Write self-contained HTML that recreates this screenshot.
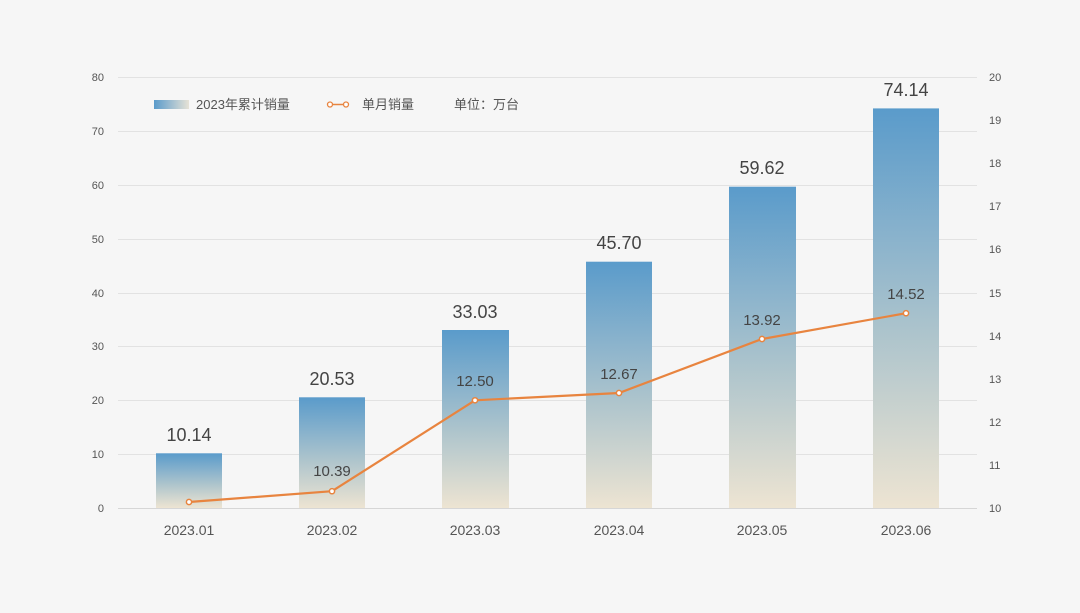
<!DOCTYPE html>
<html><head><meta charset="utf-8"><style>
html,body{margin:0;padding:0;background:#f6f6f6;}
svg text{font-family:"Liberation Sans","Noto Sans CJK SC",sans-serif;}
</style></head><body>
<svg width="1080" height="608" viewBox="0 0 1080 608" xmlns="http://www.w3.org/2000/svg">
<defs>
<linearGradient id="g" x1="0" y1="0" x2="0" y2="1">
<stop offset="0" stop-color="#5a9bcb"/><stop offset="0.55" stop-color="#abc3cc"/><stop offset="1" stop-color="#ede4d2"/></linearGradient>
<linearGradient id="lg" x1="0" y1="0" x2="1" y2="0">
<stop offset="0" stop-color="#5a9bcb"/><stop offset="1" stop-color="#e6e2d6"/></linearGradient>
</defs>
<rect width="1080" height="608" fill="#f6f6f6"/>
<g stroke="#e2e2e2" stroke-width="1">
<line x1="118" x2="977" y1="77.5" y2="77.5"/><line x1="118" x2="977" y1="131.5" y2="131.5"/>
<line x1="118" x2="977" y1="185.5" y2="185.5"/><line x1="118" x2="977" y1="239.5" y2="239.5"/>
<line x1="118" x2="977" y1="293.5" y2="293.5"/><line x1="118" x2="977" y1="346.5" y2="346.5"/>
<line x1="118" x2="977" y1="400.5" y2="400.5"/><line x1="118" x2="977" y1="454.5" y2="454.5"/>
<line x1="118" x2="977" y1="508.5" y2="508.5" stroke="#d6d6d6"/>
</g>
<g font-size="11" fill="#555" text-anchor="end">
<text x="104" y="81">80</text><text x="104" y="135">70</text><text x="104" y="189">60</text><text x="104" y="243">50</text>
<text x="104" y="297">40</text><text x="104" y="350">30</text><text x="104" y="404">20</text><text x="104" y="458">10</text><text x="104" y="512">0</text>
</g>
<g font-size="11" fill="#555" text-anchor="start">
<text x="989" y="81">20</text><text x="989" y="124">19</text><text x="989" y="167">18</text><text x="989" y="210">17</text>
<text x="989" y="253">16</text><text x="989" y="297">15</text><text x="989" y="340">14</text><text x="989" y="383">13</text>
<text x="989" y="426">12</text><text x="989" y="469">11</text><text x="989" y="512">10</text>
</g>
<g fill="url(#g)">
<rect x="156" y="453.3" width="66" height="54.7"/>
<rect x="299" y="397.3" width="66" height="110.7"/>
<rect x="442" y="330" width="67" height="178"/>
<rect x="586" y="261.7" width="66" height="246.3"/>
<rect x="729" y="186.7" width="67" height="321.3"/>
<rect x="873" y="108.4" width="66" height="399.6"/>
</g>
<g font-size="18" fill="#444" text-anchor="middle">
<text x="189" y="441">10.14</text><text x="332" y="385">20.53</text><text x="475" y="318">33.03</text>
<text x="619" y="249">45.70</text><text x="762" y="174">59.62</text><text x="906" y="96">74.14</text>
</g>
<polyline points="189,502 332,491.2 475,400.3 619,393 762,339 906,313.2" fill="none" stroke="#e8843f" stroke-width="2.2"/>
<g fill="#fff" stroke="#e8843f" stroke-width="1.5">
<circle cx="189" cy="502" r="2.6"/><circle cx="332" cy="491.2" r="2.6"/><circle cx="475" cy="400.3" r="2.6"/>
<circle cx="619" cy="393" r="2.6"/><circle cx="762" cy="339" r="2.6"/><circle cx="906" cy="313.2" r="2.6"/>
</g>
<g font-size="15" fill="#444" text-anchor="middle">
<text x="332" y="476">10.39</text><text x="475" y="386">12.50</text><text x="619" y="379">12.67</text>
<text x="762" y="325">13.92</text><text x="906" y="299">14.52</text>
</g>
<g font-size="14" fill="#555" text-anchor="middle">
<text x="189" y="535">2023.01</text><text x="332" y="535">2023.02</text><text x="475" y="535">2023.03</text>
<text x="619" y="535">2023.04</text><text x="762" y="535">2023.05</text><text x="906" y="535">2023.06</text>
</g>
<rect x="154" y="100" width="35" height="9" fill="url(#lg)"/>
<text x="196" y="109" font-size="13" fill="#555">2023年累计销量</text>
<line x1="328" x2="348" y1="104.5" y2="104.5" stroke="#e8843f" stroke-width="1.5"/>
<circle cx="330" cy="104.5" r="2.5" fill="#fff" stroke="#e8843f" stroke-width="1.3"/>
<circle cx="346" cy="104.5" r="2.5" fill="#fff" stroke="#e8843f" stroke-width="1.3"/>
<text x="362" y="109" font-size="13" fill="#555">单月销量</text>
<text x="454" y="109" font-size="13" fill="#555">单位：万台</text>
</svg>
</body></html>
